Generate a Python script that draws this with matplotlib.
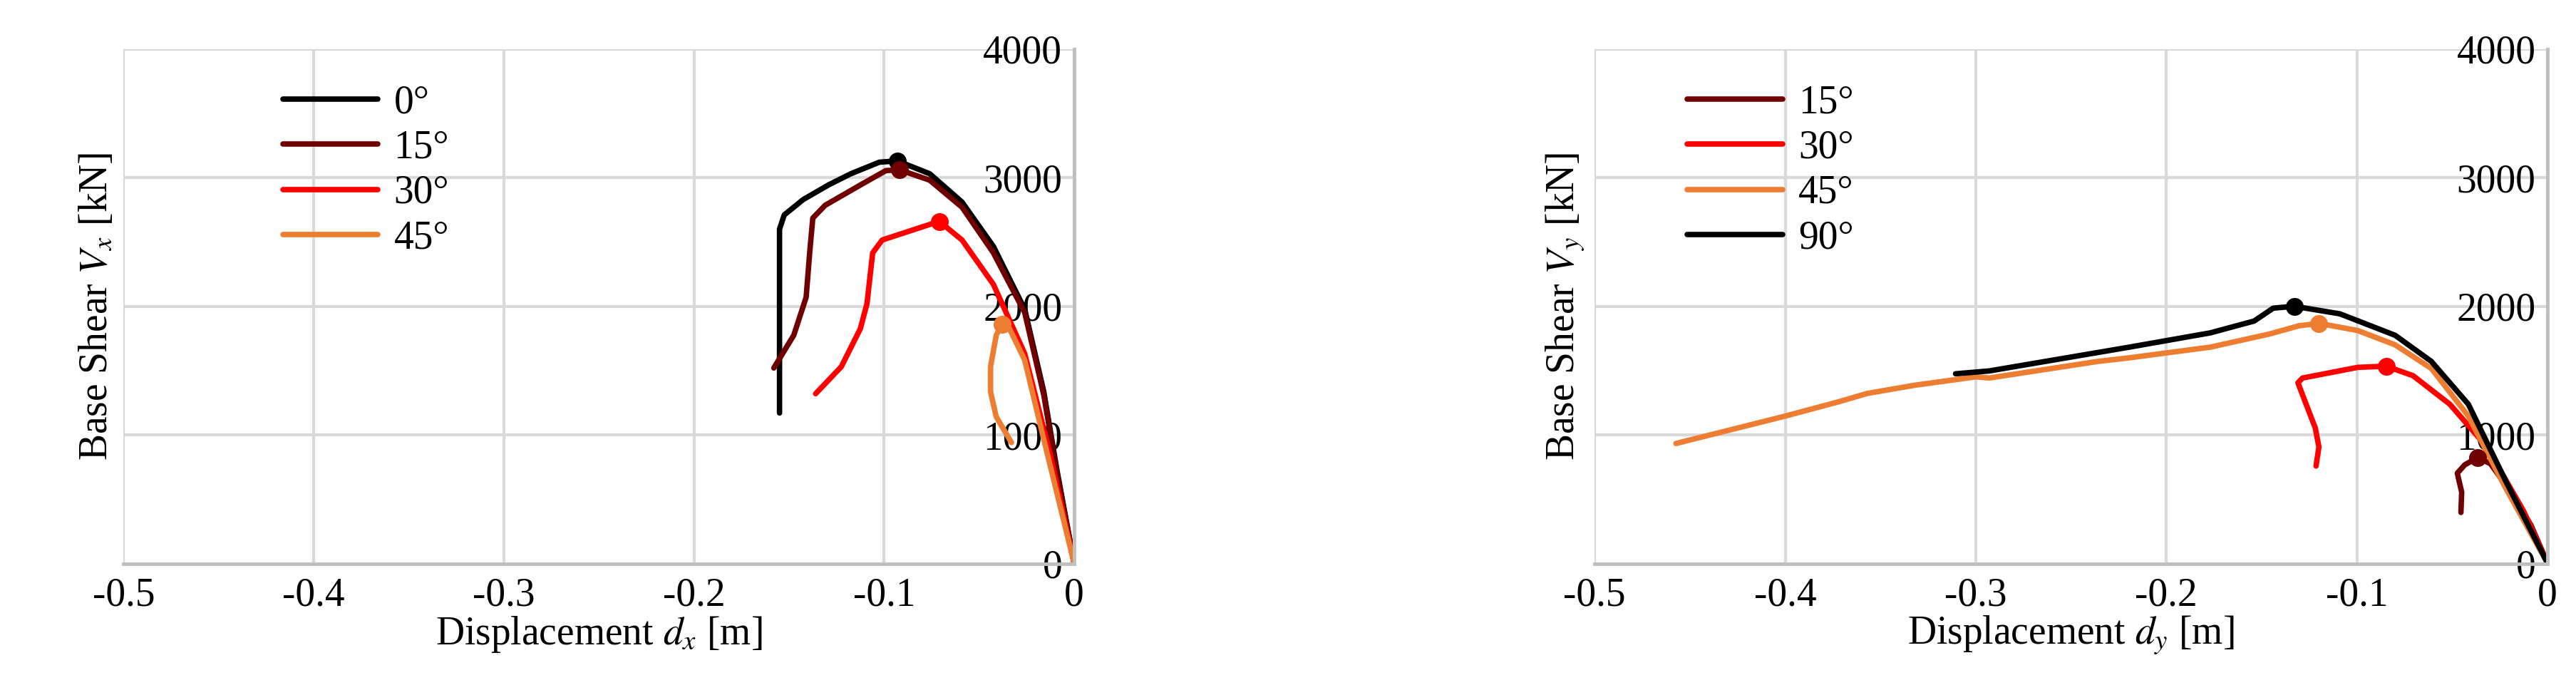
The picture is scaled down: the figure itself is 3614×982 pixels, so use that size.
import matplotlib
matplotlib.use("Agg")
import matplotlib.pyplot as plt

plt.rcParams['font.family'] = ['Liberation Serif', 'DejaVu Serif']
plt.rcParams['mathtext.fontset'] = 'stix'

# Left chart: (dx, Vx) curves
x0_dx = [0, -0.009, -0.016, -0.026, -0.0425, -0.059, -0.076, -0.093, -0.1025, -0.1175, -0.129, -0.1425, -0.1525, -0.155, -0.155]
x0_v  = [0, 720, 1335, 1975, 2465, 2810, 3030, 3130, 3120, 3030, 2945, 2830, 2710, 2600, 1170]
x15_dx = [0, -0.009, -0.016, -0.026, -0.0425, -0.059, -0.076, -0.0917, -0.099, -0.111, -0.131, -0.1375, -0.139, -0.141, -0.1475, -0.158]
x15_v  = [0, 700, 1310, 1950, 2415, 2770, 2980, 3060, 3055, 2955, 2785, 2685, 2440, 2070, 1775, 1520]
x30_dx = [0, -0.0125, -0.026, -0.0425, -0.059, -0.071, -0.101, -0.106, -0.109, -0.1125, -0.1225, -0.136]
x30_v  = [0, 840, 1630, 2170, 2515, 2660, 2515, 2415, 2020, 1825, 1530, 1320]
x45_dx = [0, -0.016, -0.026, -0.034, -0.038, -0.041, -0.044, -0.044, -0.041, -0.033]
x45_v  = [0, 965, 1580, 1825, 1860, 1775, 1530, 1335, 1140, 940]
peak_x = [(-0.093, 3130), (-0.0917, 3060), (-0.071, 2660), (-0.038, 1860)]

# Right chart: (dy, Vy) curves
y15_dx = [0, -0.0087, -0.0184, -0.030, -0.0368, -0.0435, -0.0474, -0.0451, -0.0455]
y15_v  = [0, 296, 536, 776, 823, 767, 702, 555, 397]
y30_dx = [0, -0.0126, -0.0319, -0.0513, -0.0706, -0.0847, -0.0996, -0.1286, -0.131, -0.1267, -0.1219, -0.120, -0.1215]
y30_v  = [0, 407, 906, 1238, 1460, 1534, 1525, 1442, 1405, 1238, 1054, 906, 758]
y45_dx = [0, -0.0222, -0.0416, -0.061, -0.080, -0.0996, -0.120, -0.1305, -0.146, -0.177, -0.2195, -0.236, -0.293, -0.3, -0.332, -0.357, -0.372, -0.4, -0.4573]
y45_v  = [0, 591, 1146, 1516, 1700, 1811, 1867, 1848, 1784, 1682, 1599, 1571, 1442, 1451, 1386, 1322, 1257, 1146, 933]
y90_dx = [0, -0.0222, -0.0416, -0.061, -0.080, -0.109, -0.133, -0.144, -0.154, -0.177, -0.2195, -0.293, -0.3106]
y90_v  = [0, 647, 1238, 1571, 1774, 1941, 2000, 1985, 1885, 1793, 1682, 1497, 1475]
peak_y = [(-0.0368, 823), (-0.0847, 1534), (-0.120, 1867), (-0.133, 2000)]

xticks = [-0.5, -0.4, -0.3, -0.2, -0.1, 0]
xticklabels = ['-0.5', '-0.4', '-0.3', '-0.2', '-0.1', '0']
yticks = [0, 1000, 2000, 3000, 4000]

BLACK, DRED, RED, ORANGE = '#000000', '#700000', '#ff0000', '#ed7d31'
FS = 40

fig = plt.figure(figsize=(36.14, 9.82), dpi=100)
ax1 = fig.add_axes([0.048, 0.195, 0.369, 0.735])
ax2 = fig.add_axes([0.619, 0.195, 0.370, 0.735])

def style(ax, sub):
    ax.set_xlim(-0.5, 0)
    ax.set_ylim(0, 4000)
    ax.set_xticks(xticks)
    ax.set_xticklabels(xticklabels)
    ax.set_yticks(yticks)
    ax.grid(True, color='#d9d9d9', lw=3)
    ax.set_axisbelow(True)
    for s in ['top', 'left']:
        ax.spines[s].set_visible(False)
    for s in ['bottom', 'right']:
        ax.spines[s].set_color('#bfbfbf')
        ax.spines[s].set_linewidth(3.5)
    ax.tick_params(axis='x', length=0, labelsize=FS, pad=14)
    ax.tick_params(axis='y', length=0, labelsize=FS, left=False, labelleft=False,
                   right=True, labelright=True, pad=-12)
    for lab in ax.get_yticklabels():
        lab.set_ha('right')
    ax.set_xlabel(r'Displacement $d_%s$ [m]' % sub, fontsize=FS, labelpad=0)
    ax.set_ylabel(r'Base Shear $V_%s$ [kN]' % sub, fontsize=FS, labelpad=8)
    ax.yaxis.set_label_position('left')

lw = 5.5
for dx, v, c, lab in [(x0_dx, x0_v, BLACK, '0°'), (x15_dx, x15_v, DRED, '15°'),
                      (x30_dx, x30_v, RED, '30°'), (x45_dx, x45_v, ORANGE, '45°')]:
    ax1.plot(dx, v, color=c, lw=lw, label=lab, solid_capstyle='round')
for (px, pv), c in zip(peak_x, [BLACK, DRED, RED, ORANGE]):
    ax1.plot(px, pv, 'o', color=c, ms=17, zorder=5)

for dx, v, c, lab in [(y15_dx, y15_v, DRED, '15°'), (y30_dx, y30_v, RED, '30°'),
                      (y45_dx, y45_v, ORANGE, '45°'), (y90_dx, y90_v, BLACK, '90°')]:
    ax2.plot(dx, v, color=c, lw=lw, label=lab, solid_capstyle='round')
for (px, pv), c in zip(peak_y, [DRED, RED, ORANGE, BLACK]):
    ax2.plot(px, pv, 'o', color=c, ms=17, zorder=5)

style(ax1, 'x')
style(ax2, 'y')

ax1.legend(loc='upper left', bbox_to_anchor=(0.13, 1.0), frameon=False, fontsize=FS,
           handlelength=2.4, labelspacing=0.2, handletextpad=0.4)
ax2.legend(loc='upper left', bbox_to_anchor=(0.06, 1.0), frameon=False, fontsize=FS,
           handlelength=2.4, labelspacing=0.2, handletextpad=0.4)

fig.savefig('out.png', dpi=100)
